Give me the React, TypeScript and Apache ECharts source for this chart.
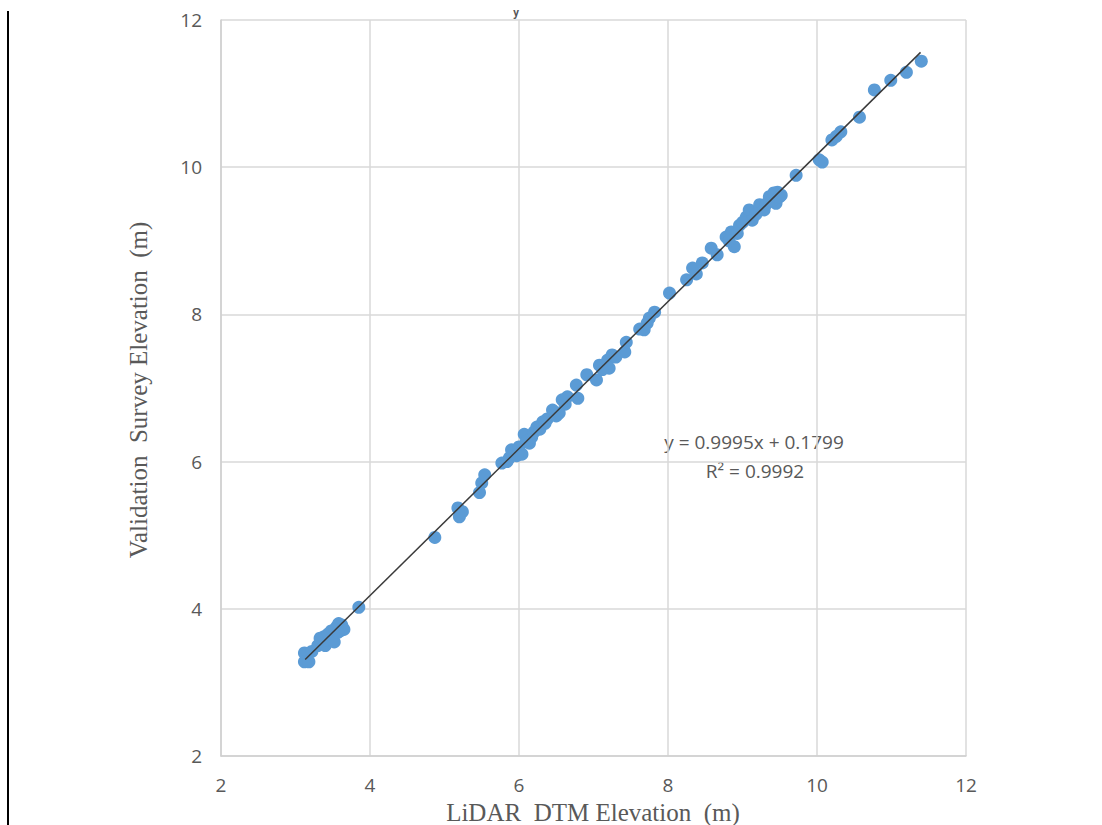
import React, { useEffect, useRef } from "react";
import * as echarts from "echarts";

const lidarX: number[] = [
  3.12, 3.12, 3.18, 3.22, 3.3, 3.35, 3.38, 3.4, 3.42, 3.45, 3.48, 3.5, 3.52, 3.55, 3.58, 3.6, 3.62, 3.65, 3.85,
  3.33, 3.44, 3.53, 3.57,
  4.87, 5.18, 5.2, 5.24, 5.47, 5.5, 5.54, 5.77, 5.87, 5.9, 5.94, 6.0, 6.04, 6.07, 6.14, 6.17, 6.24, 6.32, 6.38,
  5.84, 5.97, 6.1, 6.2, 6.28, 6.35, 6.5, 6.62,
  6.45, 6.54, 6.58, 6.65, 6.79, 6.77, 6.91, 7.04, 7.08, 7.19, 7.21, 7.25, 7.42, 7.44, 7.62, 7.68, 7.75, 7.82,
  7.12, 7.3, 7.72,
  8.02, 8.25, 8.33, 8.46, 8.58, 8.66, 8.78, 8.85, 8.89, 8.96, 9.05, 9.09, 9.13, 9.23, 9.29, 9.36, 9.45, 9.47,
  8.38, 8.82, 8.93, 9.0, 9.18, 9.32, 9.4, 9.5, 9.42,
  9.49, 9.52, 9.72, 10.03, 10.07, 10.2, 10.32, 10.57, 10.77, 10.99, 11.2, 11.4,
  10.26,
];
const surveyY: number[] = [
  3.4, 3.28, 3.28, 3.42, 3.5, 3.55, 3.62, 3.5, 3.58, 3.65, 3.7, 3.62, 3.55, 3.75, 3.8, 3.7, 3.78, 3.72, 4.02,
  3.6, 3.66, 3.72, 3.68,
  4.97, 5.37, 5.25, 5.32, 5.58, 5.71, 5.82, 5.98, 6.05, 6.16, 6.14, 6.2, 6.1, 6.37, 6.25, 6.33, 6.47, 6.54, 6.58,
  6.0, 6.08, 6.28, 6.4, 6.44, 6.52, 6.62, 6.78,
  6.7, 6.66, 6.84, 6.88, 6.86, 7.04, 7.18, 7.11, 7.31, 7.38, 7.27, 7.45, 7.49, 7.62, 7.8, 7.79, 7.95, 8.03,
  7.25, 7.42, 7.88,
  8.29, 8.47, 8.63, 8.7, 8.9, 8.81, 9.05, 9.12, 8.92, 9.21, 9.32, 9.42, 9.28, 9.49, 9.42, 9.6, 9.51, 9.66,
  8.55, 9.0, 9.1, 9.25, 9.36, 9.5, 9.55, 9.6, 9.65,
  9.6, 9.62, 9.89, 10.1, 10.07, 10.37, 10.48, 10.68, 11.05, 11.18, 11.29, 11.44,
  10.42,
];
const trendX: number[] = [3.13, 11.39];
const trendY: number[] = [3.31, 11.56];
const xTicks: number[] = [2, 4, 6, 8, 10, 12];
const yTicks: number[] = [2, 4, 6, 8, 10, 12];
const equationText = "y = 0.9995x + 0.1799";
const r2Text = "R² = 0.9992";
const xName = "LiDAR  DTM Elevation  (m)";
const yName = "Validation  Survey Elevation  (m)";

export default function App() {
  const ref = useRef<HTMLDivElement>(null);
  useEffect(() => {
    if (!ref.current) return;
    const chart = echarts.init(ref.current, null, { renderer: "svg" });
    const points = lidarX.map((x, i) => [x, surveyY[i]]);
    const trend = trendX.map((x, i) => [x, trendY[i]]);
    const axisLabel = { color: "#595959", fontSize: 19, fontFamily: "Open Sans", margin: 19 };
    chart.setOption({
      animation: false,
      backgroundColor: "#ffffff",
      grid: { left: 221, top: 20, width: 745, height: 736 },
      xAxis: {
        type: "value",
        min: xTicks[0],
        max: xTicks[xTicks.length - 1],
        interval: 2,
        axisLine: { show: true, lineStyle: { color: "#cfcfcf", width: 1.5 } },
        axisTick: { show: false },
        splitLine: { show: true, lineStyle: { color: "#d9d9d9", width: 1.5 } },
        axisLabel,
      },
      yAxis: {
        type: "value",
        min: yTicks[0],
        max: yTicks[yTicks.length - 1],
        interval: 2,
        axisLine: { show: true, lineStyle: { color: "#cfcfcf", width: 1.5 } },
        axisTick: { show: false },
        splitLine: { show: true, lineStyle: { color: "#d9d9d9", width: 1.5 } },
        axisLabel,
      },
      series: [
        {
          type: "scatter",
          data: points,
          symbolSize: 13,
          itemStyle: { color: "#5B9BD5", opacity: 1 },
          z: 2,
        },
        {
          type: "line",
          data: trend,
          showSymbol: false,
          symbol: "none",
          lineStyle: { color: "#3a3a3a", width: 1.5 },
          z: 3,
        },
      ],
      graphic: [
        {
          type: "line",
          shape: { x1: 8, y1: 11, x2: 8, y2: 825 },
          style: { stroke: "#000000", lineWidth: 2 },
        },
        {
          type: "text",
          x: 516,
          y: 12,
          style: { text: "y", fontSize: 10, fill: "#555555", align: "center", verticalAlign: "middle", fontFamily: "Open Sans", fontWeight: "bold" },
        },
        {
          type: "text",
          x: 754,
          y: 442,
          style: { text: equationText, fontSize: 19, fill: "#595959", align: "center", verticalAlign: "middle", fontFamily: "Open Sans" },
        },
        {
          type: "text",
          x: 755,
          y: 471,
          style: { text: r2Text, fontSize: 19, fill: "#595959", align: "center", verticalAlign: "middle", fontFamily: "Open Sans" },
        },
        {
          type: "text",
          x: 593,
          y: 812,
          style: { text: xName, fontSize: 25, fill: "#595959", align: "center", verticalAlign: "middle", fontFamily: "Liberation Serif" },
        },
        {
          type: "text",
          x: 138,
          y: 390,
          rotation: Math.PI / 2,
          style: { text: yName, fontSize: 25, fill: "#595959", align: "center", verticalAlign: "middle", fontFamily: "Liberation Serif" },
        },
      ],
    });
    return () => chart.dispose();
  }, []);
  return (
    <div
      ref={ref}
      style={{ position: "absolute", left: 0, top: 0, width: 1102, height: 825 }}
    />
  );
}
